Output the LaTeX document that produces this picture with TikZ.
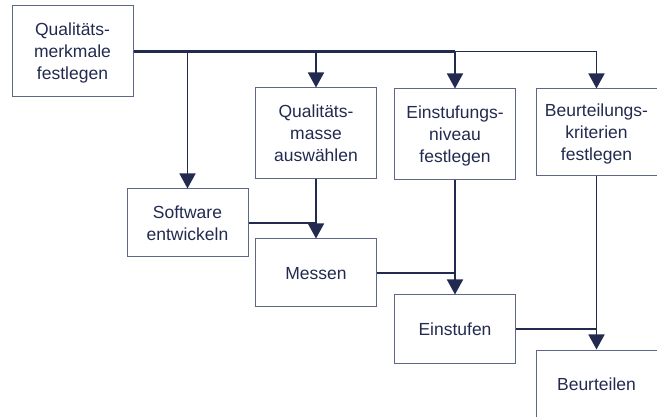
\documentclass[tikz,border=0pt]{standalone}
\usepackage{fontspec}
\setmainfont{Liberation Sans}
\usetikzlibrary{arrows.meta}
\definecolor{ink}{HTML}{222B4F}
\definecolor{frame}{HTML}{5F6786}
\begin{document}
\begin{tikzpicture}[x=1pt,y=-1pt,
    box/.style={draw=frame,line width=1pt,text=ink,align=center,
        minimum width=121pt,inner sep=0pt,text depth=0pt,
        font=\fontsize{17.5}{22}\selectfont},
    tall/.style={box,minimum height=91pt},
    flat/.style={box,minimum height=68pt},
    flow/.style={draw=ink,line width=1.6pt,-{Triangle[length=15pt,width=16pt]}}]
\useasboundingbox (0,0) rectangle (657,417);
% planning row
\node[tall] (merkmale) at (72.5,51.5) {Qualitäts-\\merkmale\\festlegen};
\node[tall] (masse) at (316,133.5) {Qualitäts-\\masse\\auswählen};
\node[tall] (niveau) at (455,134.5) {Einstufungs-\\niveau\\festlegen};
\node[box,minimum height=87pt] (kriterien) at (596.5,132.5) {Beurteilungs-\\kriterien\\festlegen};
% staircase
\node[flat] (software) at (187.5,223) {Software\\entwickeln};
\node[flat] (messen) at (316,273) {Messen};
\node[flat] (einstufen) at (455,329) {Einstufen};
\node[flat] (beurteilen) at (596.5,384) {Beurteilen};

        \draw[flow] (merkmale.east) -| (software.north);
        \draw[flow] (merkmale.east) -| (masse.north);
        \draw[flow] (merkmale.east) -| (niveau.north);
        \draw[flow] (merkmale.east) -| (kriterien.north);
        % heavier stretch of the bus
        \draw[ink,line width=2.2pt] (merkmale.east) -- (merkmale.east -| niveau.north);

\draw[flow] (masse.south) -- (messen.north);
\draw[flow,-] (software.east) -- (software.east -| messen.north);
\draw[flow] (niveau.south) -- (einstufen.north);
\draw[flow,-] (messen.east) -- (messen.east -| einstufen.north);
\draw[flow] (kriterien.south) -- (beurteilen.north);
\draw[flow,-] (einstufen.east) -- (einstufen.east -| beurteilen.north);
\end{tikzpicture}
\end{document}
